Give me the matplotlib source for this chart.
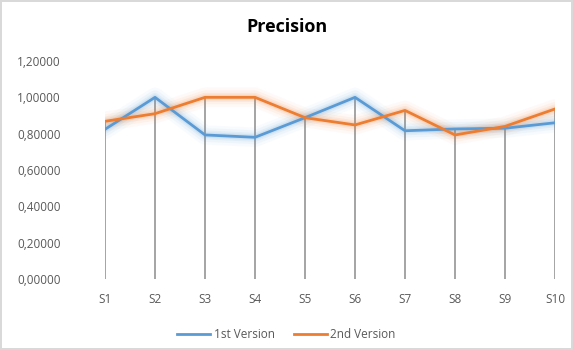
import numpy as np
import matplotlib.pyplot as plt
from matplotlib.ticker import FuncFormatter

# data------------------------------------------------------------------------#
cats = ['S1', 'S2', 'S3', 'S4', 'S5', 'S6', 'S7', 'S8', 'S9', 'S10']
v1 = [0.824, 1.000, 0.793, 0.780, 0.888, 1.000, 0.816, 0.826, 0.830, 0.860]
v2 = [0.868, 0.910, 1.000, 1.000, 0.888, 0.848, 0.928, 0.793, 0.840, 0.936]
names = ['1st Version', '2nd Version']

blue = '#5b9bd5'
orange = '#ed7d31'

plt.rcParams['font.family'] = ['Open Sans', 'DejaVu Sans']

fig = plt.figure(figsize=(5.73, 3.5), dpi=100)
fig.patch.set_edgecolor('#d9d9d9')
fig.patch.set_linewidth(1.5)
ax = fig.add_axes([105/573, 71/350, 450/573, 218/350])

x = np.arange(len(cats))
top = np.maximum(v1, v2)
ax.vlines(x, 0, top, color='#8c8c8c', lw=1.1, zorder=1)

# glow
for v, c in [(v1, blue), (v2, orange)]:
    for w, a in [(14, 0.04), (10, 0.06), (6.5, 0.09), (4, 0.12)]:
        ax.plot(x, v, color=c, lw=w, alpha=a, solid_capstyle='round',
                solid_joinstyle='round', zorder=2)
l1, = ax.plot(x, v1, color=blue, lw=2, zorder=3)
l2, = ax.plot(x, v2, color=orange, lw=2, zorder=3)

ax.set_xlim(0, 9)
ax.set_ylim(0, 1.2)
ax.set_yticks(np.arange(0, 1.21, 0.2))
ax.yaxis.set_major_formatter(FuncFormatter(lambda v, p: f'{v:.5f}'.replace('.', ',')))
ax.set_xticks(x)
ax.set_xticklabels(cats)
ax.tick_params(length=0, labelsize=8.5, colors='#595959')
ax.tick_params(axis='x', pad=10)
ax.tick_params(axis='y', pad=32)
for s in ax.spines.values():
    s.set_visible(False)

fig.text(0.5, 1 - 27/350, 'Precision', ha='center', va='center', fontsize=13,
         fontweight='bold')
fig.legend([l1, l2], names, loc='center', bbox_to_anchor=(0.5, 0.045), ncol=2,
           frameon=False, fontsize=8.5, handlelength=2.8, handletextpad=0.3,
           columnspacing=1.6, labelcolor='#595959')

fig.savefig('out.png', dpi=100)
